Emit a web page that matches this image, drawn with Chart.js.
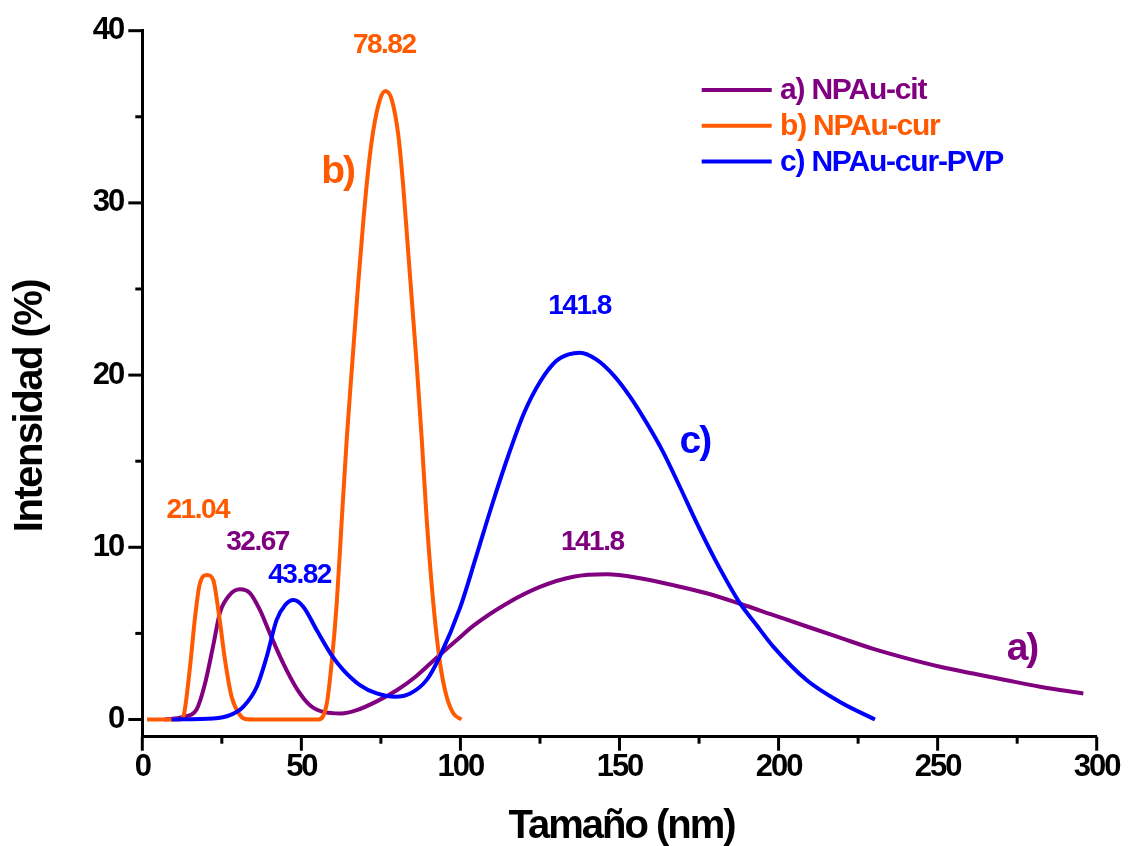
<!DOCTYPE html>
<html><head><meta charset="utf-8">
<script src="https://cdn.jsdelivr.net/npm/chart.js@4/dist/chart.umd.min.js"></script>
<style>html,body{margin:0;padding:0;background:#fff;}#wrap{position:relative;width:1130px;height:846px;}</style>
</head><body><div id="wrap"><canvas id="c" width="1130" height="846"></canvas></div>
<script>
// ---- data ----
const xTickLabels = [0, 50, 100, 150, 200, 250, 300];
const xMinorTicks = [25, 75, 125, 175, 225, 275];
const yTickLabels = [0, 10, 20, 30, 40];
const yMinorTicks = [5, 15, 25, 35];
const seriesNames = ['a) NPAu-cit', 'b) NPAu-cur', 'c) NPAu-cur-PVP'];
const curveTags = ['a)', 'b)', 'c)'];
const peakLabels = ['78.82', '141.8', '141.8', '21.04', '32.67', '43.82'];
const xTitle = 'Tamaño (nm)';
const yTitle = 'Intensidad (%)';

// a) NPAu-cit
const aSize = [7, 12.9, 17.1, 19.6, 22.3, 24.4, 27.3, 30.7, 33.9, 37, 40.1, 44.3, 48.8, 52.7, 56.9, 62.5, 67.4, 74, 80, 86, 92, 98.8, 104.1, 114.6, 125, 135.5, 146, 156.5, 166.9, 177.4, 187.9, 198.4, 208.9, 219.3, 229.8, 240.3, 250.8, 261.2, 271.7, 282.2, 295.8];
const aInt  = [0, 0.15, 0.6, 2.0, 4.3, 6.2, 7.2, 7.56, 7.33, 6.35, 5.0, 3.26, 1.72, 0.83, 0.44, 0.35, 0.54, 1.08, 1.7, 2.5, 3.5, 4.6, 5.45, 6.74, 7.7, 8.29, 8.43, 8.2, 7.8, 7.33, 6.72, 6.06, 5.4, 4.75, 4.1, 3.55, 3.06, 2.67, 2.28, 1.9, 1.51];
// b) NPAu-cur
const bSize = [1.5, 12, 13.2, 15, 16.6, 18.1, 20.4, 22.3, 23.9, 26, 28.1, 30.7, 32.3, 35, 55.5, 58, 59.5, 61.1, 62.7, 64.3, 66.0, 67.9, 69.5, 71.0, 72.6, 74.7, 76.4, 78.4, 80.5, 82.0, 83.6, 85.2, 86.3, 87.8, 89.4, 91.5, 93.6, 95.7, 97.8, 100.3];
const bInt  = [0, 0, 0.4, 3.06, 5.97, 7.9, 8.39, 8.1, 6.35, 3.45, 1.3, 0.25, 0.03, 0, 0, 0.93, 3.26, 6.7, 11.6, 16.4, 20.7, 25.4, 29.0, 31.9, 34.2, 36.0, 36.5, 36.0, 33.9, 31.0, 27.1, 23.2, 20.5, 16.4, 11.6, 6.7, 3.26, 1.3, 0.35, 0];
// c) NPAu-cur-PVP
const cSize = [9.2, 22.3, 27.6, 31.7, 36, 39.1, 42.2, 44.9, 47.5, 50.6, 54.8, 59.5, 63.2, 68.4, 73.7, 79.5, 84.2, 89.4, 93.6, 99.9, 105, 110, 115, 120, 125, 130, 134, 137.6, 142.8, 148.1, 153.3, 158.6, 163.8, 169, 174.3, 180, 187.9, 193, 198.4, 208.9, 219.3, 230.3];
const cInt  = [0, 0.06, 0.25, 0.73, 1.9, 3.64, 5.77, 6.65, 6.94, 6.55, 5.2, 3.74, 2.87, 2.0, 1.51, 1.32, 1.51, 2.3, 3.7, 6.5, 9.5, 12.5, 15.3, 17.8, 19.6, 20.8, 21.2, 21.3, 20.9, 20.0, 18.75, 17.2, 15.5, 13.5, 11.4, 9.3, 6.74, 5.5, 4.22, 2.28, 1.02, 0];

// ---- styling ----
const FONT = "'Liberation Sans', Arial, Helvetica, sans-serif";
const COLORS = ['#800080', '#FF5A00', '#0000FF'];
const pts = (xs, ys) => xs.map((x, i) => ({x: x, y: ys[i]}));

// annotation placement (data coordinates, text baseline)
const annot = [
  {t: peakLabels[0], x: 75.8, y: 38.72, c: COLORS[1], s: 28, ls: -1.5},
  {t: peakLabels[1], x: 137.2, y: 23.55, c: COLORS[2], s: 28, ls: -1.5},
  {t: peakLabels[2], x: 141.2, y: 9.83, c: COLORS[0], s: 28, ls: -1.5},
  {t: peakLabels[3], x: 17.2, y: 11.69, c: COLORS[1], s: 28, ls: -1.5},
  {t: peakLabels[4], x: 36.0, y: 9.84, c: COLORS[0], s: 28, ls: -1.5},
  {t: peakLabels[5], x: 49.2, y: 7.91, c: COLORS[2], s: 28, ls: -1.5},
  {t: curveTags[0], x: 276.2, y: 3.45, c: COLORS[0], s: 39, ls: -2},
  {t: curveTags[1], x: 61.1, y: 31.16, c: COLORS[1], s: 39, ls: -2},
  {t: curveTags[2], x: 173.4, y: 15.47, c: COLORS[2], s: 39, ls: -2}
];

const spacingPlugin = {
  id: 'spacing',
  beforeDraw(chart) { chart.ctx.letterSpacing = '-2px'; }
};

const decoPlugin = {
  id: 'deco',
  afterDraw(chart) {
    const ctx = chart.ctx, xs = chart.scales.x, ys = chart.scales.y;
    const area = chart.chartArea;
    ctx.save();
    // tick marks
    ctx.strokeStyle = '#000'; ctx.lineWidth = 3; ctx.lineCap = 'butt';
    const yb = area.bottom, xl = area.left;
    const xt = (v, len) => { const p = xs.getPixelForValue(v); ctx.beginPath(); ctx.moveTo(p, yb); ctx.lineTo(p, yb + len); ctx.stroke(); };
    const yt = (v, len) => { const p = ys.getPixelForValue(v); ctx.beginPath(); ctx.moveTo(xl, p); ctx.lineTo(xl - len, p); ctx.stroke(); };
    xTickLabels.forEach(v => xt(v, 14)); xMinorTicks.forEach(v => xt(v, 7));
    yTickLabels.forEach(v => yt(v, 14)); yMinorTicks.forEach(v => yt(v, 7));
    // annotations
    ctx.textAlign = 'center'; ctx.textBaseline = 'alphabetic';
    annot.forEach(a => {
      ctx.font = 'bold ' + a.s + 'px ' + FONT;
      ctx.letterSpacing = a.ls + 'px';
      ctx.fillStyle = a.c;
      ctx.fillText(a.t, xs.getPixelForValue(a.x) - a.ls / 2, ys.getPixelForValue(a.y));
    });
    // legend
    const ly = [90, 125.8, 161.6];
    seriesNames.forEach((n, i) => {
      ctx.strokeStyle = COLORS[i]; ctx.lineWidth = 4;
      ctx.beginPath(); ctx.moveTo(701.7, ly[i]); ctx.lineTo(771.7, ly[i]); ctx.stroke();
      ctx.font = 'bold 30px ' + FONT; ctx.letterSpacing = '-1.2px';
      ctx.fillStyle = COLORS[i]; ctx.textAlign = 'left'; ctx.textBaseline = 'middle';
      ctx.fillText(n, 780, ly[i] + 1);
    });
    // axis titles
    ctx.fillStyle = '#000'; ctx.textAlign = 'center'; ctx.textBaseline = 'alphabetic';
    ctx.font = 'bold 40px ' + FONT; ctx.letterSpacing = '-2px';
    ctx.fillText(xTitle, (area.left + area.right) / 2 + 2, 838);
    ctx.save();
    ctx.translate(42, 406); ctx.rotate(-Math.PI / 2);
    ctx.letterSpacing = '-1.5px';
    ctx.fillText(yTitle, 0, 0);
    ctx.restore();
    ctx.restore();
    ctx.letterSpacing = '-2px';
  }
};

const ds = (label, data, color, order) => ({
  label: label, data: data, borderColor: color, backgroundColor: color,
  borderWidth: 4, pointRadius: 0, fill: false, cubicInterpolationMode: 'monotone',
  order: order, clip: false
});

new Chart(document.getElementById('c'), {
  type: 'line',
  data: {
    datasets: [
      ds(seriesNames[0], pts(aSize, aInt), COLORS[0], 3),
      ds(seriesNames[1], pts(bSize, bInt), COLORS[1], 2),
      ds(seriesNames[2], pts(cSize, cInt), COLORS[2], 1)
    ]
  },
  options: {
    responsive: false, animation: false, devicePixelRatio: 1,
    layout: {padding: {left: 0, top: 30.7, right: 33.3, bottom: 0}},
    plugins: {legend: {display: false}, tooltip: {enabled: false}},
    scales: {
      x: {
        type: 'linear', min: 0, max: 300,
        afterFit: s => { s.height = 109.3; s.paddingLeft = 0; s.paddingRight = 0; },
        afterBuildTicks: s => { s.ticks = xTickLabels.map(v => ({value: v})); },
        grid: {display: false, drawTicks: false},
        border: {display: true, width: 3, color: '#000'},
        ticks: {font: {family: FONT, size: 31, weight: 'bold'}, color: '#000', padding: 12, maxRotation: 0, autoSkip: false}
      },
      y: {
        type: 'linear', min: -1, max: 40,
        afterFit: s => { s.width = 142.3; s.paddingTop = 0; s.paddingBottom = 0; },
        afterBuildTicks: s => { s.ticks = yTickLabels.map(v => ({value: v})); },
        grid: {display: false, drawTicks: false},
        border: {display: true, width: 3, color: '#000'},
        ticks: {font: {family: FONT, size: 31, weight: 'bold'}, color: '#000', padding: 19, autoSkip: false}
      }
    }
  },
  plugins: [spacingPlugin, decoPlugin]
});
</script></body></html>
